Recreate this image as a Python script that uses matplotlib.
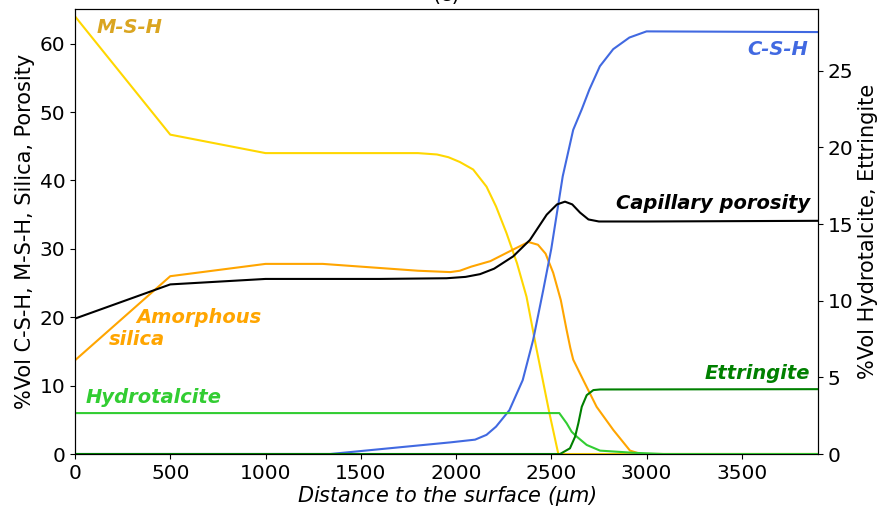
import matplotlib
matplotlib.use("Agg")
import matplotlib.pyplot as plt

# ---- data (left axis: %Vol) ----
x_msh = [0, 500, 1000, 1800, 1900, 1960, 2020, 2090, 2160, 2210, 2265, 2320, 2370, 2420, 2490, 2537, 3900]
msh = [64.0, 46.7, 44.0, 44.0, 43.8, 43.4, 42.7, 41.6, 39.1, 36.2, 32.3, 27.9, 23.0, 15.7, 6.0, 0.0, 0.0]

x_csh = [0, 1340, 1970, 2100, 2160, 2210, 2280, 2350, 2405, 2458, 2500, 2560, 2615, 2660, 2700, 2755, 2825, 2910, 3000, 3900]
csh = [0.0, 0.0, 1.7, 2.1, 2.8, 4.0, 6.4, 10.8, 16.7, 24.0, 30.0, 40.6, 47.4, 50.4, 53.3, 56.7, 59.2, 60.9, 61.8, 61.7]

x_sil = [0, 500, 1000, 1300, 1600, 1800, 1970, 2020, 2080, 2180, 2300, 2380, 2430, 2470, 2510, 2550, 2580, 2600, 2615, 2668, 2738, 2826, 2913, 2970, 3900]
sil = [13.7, 26.0, 27.8, 27.8, 27.2, 26.8, 26.6, 26.8, 27.4, 28.2, 29.9, 31.0, 30.6, 29.3, 26.5, 22.5, 18.2, 15.5, 13.8, 10.8, 6.9, 3.5, 0.5, 0.0, 0.0]

x_por = [0, 500, 1000, 1600, 1950, 2050, 2126, 2200, 2300, 2388, 2476, 2530, 2572, 2610, 2651, 2695, 2750, 3000, 3900]
por = [19.8, 24.8, 25.6, 25.6, 25.7, 25.9, 26.3, 27.1, 28.9, 31.3, 35.0, 36.5, 36.9, 36.5, 35.3, 34.3, 34.0, 34.0, 34.1]

# ---- data (right axis: %Vol) ----
x_hyd = [0, 2542, 2581, 2607, 2634, 2686, 2756, 2930, 3088, 3900]
hyd = [2.67, 2.67, 2.0, 1.45, 1.13, 0.59, 0.22, 0.08, 0.0, 0.0]

x_ett = [0, 2546, 2598, 2625, 2642, 2660, 2686, 2721, 2756, 3900]
ett = [0.0, 0.0, 0.37, 1.13, 2.0, 3.08, 3.84, 4.17, 4.21, 4.23]

fig = plt.figure(figsize=(8.8, 5.14), dpi=100)
ax = fig.add_axes([75/880, 1-454/514, (818-75)/880, (454-9.5)/514])
ax2 = ax.twinx()

lw = 1.5
ax.plot(x_msh, msh, color='#FFD700', lw=lw)
ax.plot(x_sil, sil, color='#FFA500', lw=lw)
ax.plot(x_csh, csh, color='#4169E1', lw=lw)
ax.plot(x_por, por, color='black', lw=lw)
ax2.plot(x_hyd, hyd, color='#32CD32', lw=lw)
ax2.plot(x_ett, ett, color='#008000', lw=lw)

ax.set_xlim(0, 3900)
ax.set_ylim(0, 65)
ax2.set_ylim(0, 29)
ax.set_xticks([0, 500, 1000, 1500, 2000, 2500, 3000, 3500])
ax.set_yticks([0, 10, 20, 30, 40, 50, 60])
ax2.set_yticks([0, 5, 10, 15, 20, 25])

fs = 14.5
fl = 15
ax.tick_params(labelsize=fs)
ax2.tick_params(labelsize=fs)
ax.set_xlabel(r"Distance to the surface ($\mu$m)", fontsize=fl, style='italic', labelpad=1)
ax.set_ylabel("%Vol C-S-H, M-S-H, Silica, Porosity", fontsize=fl, labelpad=3)
ax2.set_ylabel("%Vol Hydrotalcite, Ettringite", fontsize=fl, labelpad=3)
ax.set_title("(c)", fontsize=fl)

tk = dict(fontsize=14, fontweight='bold', style='italic')
ax.text(115, 62.4, "M-S-H", color='#DAA520', ha='left', va='center', **tk)
ax.text(3848, 59.2, "C-S-H", color='#4169E1', ha='right', va='center', **tk)
ax.text(3860, 36.7, "Capillary porosity", color='black', ha='right', va='center', **tk)
ax.text(320, 20.0, "Amorphous", color='#FFA500', ha='left', va='center', **tk)
ax.text(180, 16.8, "silica", color='#FFA500', ha='left', va='center', **tk)
ax.text(55, 8.3, "Hydrotalcite", color='#32CD32', ha='left', va='center', **tk)
ax.text(3860, 11.7, "Ettringite", color='#008000', ha='right', va='center', **tk)

fig.savefig("out.png", dpi=100)
